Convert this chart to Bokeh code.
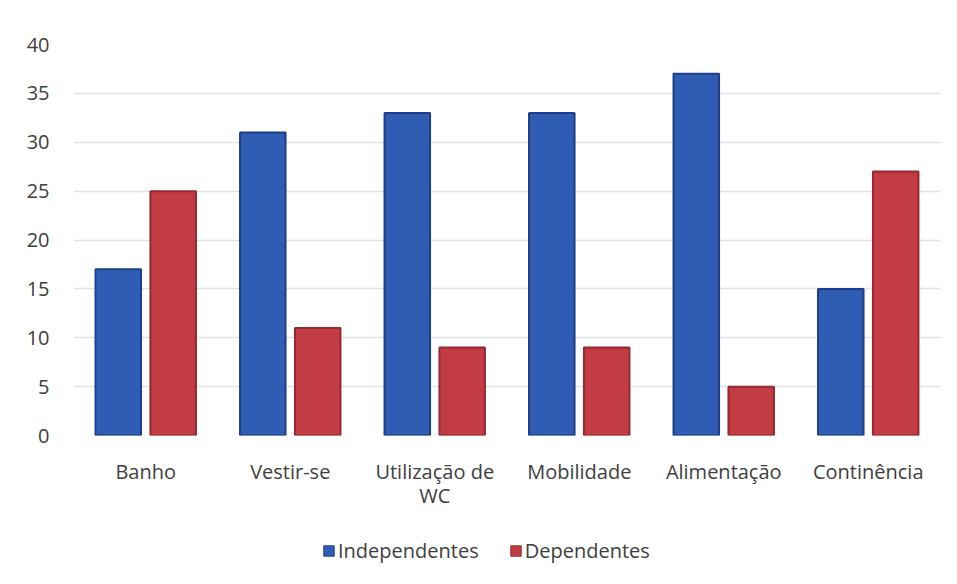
from bokeh.plotting import figure
from bokeh.models import ColumnDataSource, Legend, LegendItem, FixedTicker, Range1d
from bokeh.layouts import column
from bokeh.transform import dodge
from bokeh.embed import file_html
from bokeh.resources import INLINE

categories = ["Banho", "Vestir-se", "Utilização de WC", "Mobilidade", "Alimentação", "Continência"]
tick_labels = ["Banho", "Vestir-se", "Utilização de\nWC", "Mobilidade", "Alimentação", "Continência"]
series_names = ["Independentes", "Dependentes"]
independentes = [17, 31, 33, 33, 37, 15]
dependentes = [25, 11, 9, 9, 5, 27]

BLUE, BLUE_EDGE = "#2F5DB3", "#1F3D88"
RED, RED_EDGE = "#C43C43", "#922B31"
FONT = "Open Sans"
FS = "20px"

x = [i + 0.5 for i in range(len(categories))]
src = ColumnDataSource(dict(x=x, ind=independentes, dep=dependentes))

p = figure(width=949, height=515, output_backend="svg", toolbar_location=None,
           x_range=Range1d(0, 6), y_range=Range1d(0, 40),
           min_border_left=73, min_border_right=9, min_border_top=44, min_border_bottom=80)
p.outline_line_color = None

p.vbar(x=dodge("x", -0.19, range=p.x_range), top="ind", width=0.315, source=src,
       fill_color=BLUE, line_color=BLUE_EDGE, line_width=2)
p.vbar(x=dodge("x", 0.19, range=p.x_range), top="dep", width=0.315, source=src,
       fill_color=RED, line_color=RED_EDGE, line_width=2)

p.yaxis.ticker = FixedTicker(ticks=list(range(0, 41, 5)))
p.xaxis.ticker = FixedTicker(ticks=x)
p.xaxis.major_label_overrides = {xi: lab for xi, lab in zip(x, tick_labels)}
for ax in (p.xaxis, p.yaxis):
    ax.axis_line_color = None
    ax.major_tick_line_color = None
    ax.minor_tick_line_color = None
    ax.major_tick_out = 0
    ax.major_tick_in = 0
    ax.major_label_text_font = FONT
    ax.major_label_text_font_size = FS
    ax.major_label_text_color = "#404040"
p.xaxis.major_label_text_line_height = 0.92
p.yaxis.major_label_standoff = 24
p.xaxis.major_label_standoff = 22
p.xgrid.grid_line_color = None
p.ygrid.grid_line_color = "#E3E3E3"
p.ygrid.grid_line_width = 1.5

# legend strip: its renderers are hidden, only the legend entries are shown
lg = figure(width=949, height=62, output_backend="svg", toolbar_location=None,
            x_range=Range1d(0, 6), y_range=Range1d(0, 40),
            min_border_left=0, min_border_right=0, min_border_top=0, min_border_bottom=0)
lg.outline_line_color = None
lg.axis.visible = False
lg.grid.visible = False
l1 = lg.vbar(x="x", top="ind", width=0.3, source=src,
             fill_color=BLUE, line_color=BLUE_EDGE, line_width=1, visible=False)
l2 = lg.vbar(x="x", top="dep", width=0.3, source=src,
             fill_color=RED, line_color=RED_EDGE, line_width=1, visible=False)
legend = Legend(items=[LegendItem(label=series_names[0], renderers=[l1]),
                       LegendItem(label=series_names[1], renderers=[l2])],
                orientation="horizontal", location=(249, 13),
                label_text_font=FONT, label_text_font_size=FS, label_text_color="#404040",
                glyph_width=13, glyph_height=13, spacing=30, label_standoff=3,
                inactive_fill_alpha=0,
                border_line_color=None, background_fill_alpha=0, margin=0, padding=2)
lg.add_layout(legend, "center")

layout = column(p, lg, spacing=0)
open("out.html", "w").write(file_html(layout, INLINE))
